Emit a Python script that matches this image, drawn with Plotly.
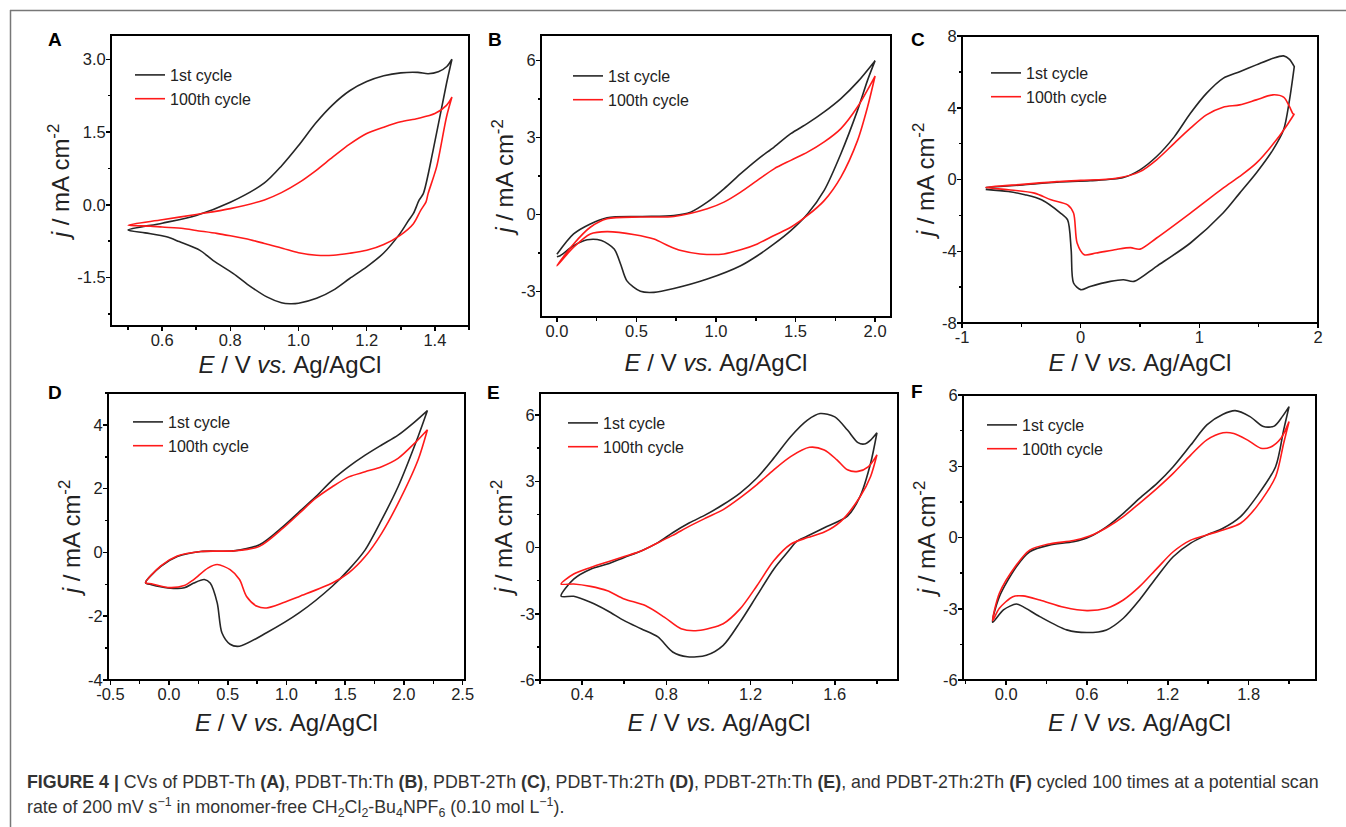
import plotly.graph_objects as go

W, H = 1346, 827
FONT = "Liberation Sans, Arial, sans-serif"
BLACK_C = "#262626"
RED_C = "#ff1a1a"

# ---------------- DATA ----------------
# Panel A  (PDBT-Th)
a_black_up_x = [0.5, 0.6, 0.7, 0.8, 0.9, 0.95, 1.0, 1.05, 1.1, 1.15, 1.2, 1.25, 1.3, 1.35, 1.38, 1.41, 1.435, 1.45]
a_black_up_y = [-0.52, -0.38, -0.22, 0.05, 0.45, 0.8, 1.22, 1.68, 2.06, 2.35, 2.54, 2.66, 2.72, 2.73, 2.70, 2.74, 2.85, 3.0]
a_black_dn_x = [1.45, 1.434, 1.395, 1.366, 1.354, 1.337, 1.323, 1.298, 1.249, 1.2, 1.15, 1.102, 1.053, 1.0, 0.975, 0.95, 0.907, 0.85, 0.809, 0.75, 0.711, 0.65, 0.613, 0.55, 0.5]
a_black_dn_y = [3.0, 2.5, 1.13, 0.23, 0.1, -0.18, -0.32, -0.59, -1.0, -1.28, -1.52, -1.76, -1.93, -2.03, -2.04, -2.02, -1.9, -1.64, -1.42, -1.15, -0.94, -0.76, -0.66, -0.58, -0.52]
a_red_up_x = [0.5, 0.6, 0.7, 0.8, 0.9, 0.95, 1.0, 1.05, 1.1, 1.15, 1.2, 1.25, 1.3, 1.35, 1.4, 1.434, 1.45]
a_red_up_y = [-0.42, -0.31, -0.2, -0.08, 0.1, 0.25, 0.45, 0.7, 0.98, 1.25, 1.47, 1.6, 1.71, 1.78, 1.88, 2.05, 2.22]
a_red_dn_x = [1.45, 1.434, 1.405, 1.38, 1.374, 1.358, 1.337, 1.298, 1.25, 1.2, 1.15, 1.102, 1.053, 1.0, 0.955, 0.9, 0.858, 0.8, 0.76, 0.7, 0.662, 0.6, 0.565, 0.5]
a_red_dn_y = [2.22, 1.81, 0.78, 0.23, 0.06, -0.12, -0.39, -0.63, -0.82, -0.94, -1.0, -1.04, -1.04, -0.99, -0.9, -0.8, -0.72, -0.64, -0.59, -0.53, -0.49, -0.46, -0.44, -0.42]

# Panel B  (PDBT-Th:Th)
b_black_up_x = [0.0, 0.105, 0.21, 0.315, 0.525, 0.735, 0.84, 0.945, 1.05, 1.155, 1.26, 1.365, 1.47, 1.575, 1.68, 1.785, 1.89, 2.0]
b_black_up_y = [-1.55, -0.76, -0.37, -0.13, -0.08, -0.04, 0.09, 0.48, 1.0, 1.59, 2.14, 2.63, 3.15, 3.55, 4.0, 4.52, 5.17, 6.0]
b_black_dn_x = [2.0, 1.953, 1.89, 1.785, 1.68, 1.575, 1.47, 1.365, 1.26, 1.155, 0.945, 0.735, 0.61, 0.525, 0.44, 0.4, 0.36, 0.28, 0.19, 0.105, 0.02, 0.0]
b_black_dn_y = [6.0, 5.24, 4.07, 2.37, 0.94, 0.02, -0.63, -1.15, -1.61, -2.0, -2.52, -2.89, -3.04, -3.0, -2.59, -1.93, -1.35, -1.02, -0.99, -1.22, -1.61, -1.65]
b_red_up_x = [0.0, 0.105, 0.21, 0.315, 0.525, 0.735, 0.945, 1.05, 1.155, 1.26, 1.365, 1.47, 1.575, 1.68, 1.785, 1.89, 2.0]
b_red_up_y = [-2.0, -1.15, -0.5, -0.17, -0.1, -0.08, 0.22, 0.48, 0.87, 1.33, 1.78, 2.11, 2.43, 2.83, 3.35, 4.2, 5.4]
b_red_dn_x = [2.0, 1.953, 1.89, 1.785, 1.68, 1.575, 1.47, 1.365, 1.26, 1.155, 1.05, 0.9, 0.78, 0.7, 0.61, 0.49, 0.315, 0.21, 0.105, 0.0]
b_red_dn_y = [5.4, 4.2, 2.89, 1.46, 0.54, -0.04, -0.5, -0.82, -1.15, -1.38, -1.54, -1.54, -1.41, -1.22, -0.96, -0.79, -0.67, -0.76, -1.28, -2.0]

# Panel C  (PDBT-2Th)
c_black_up_x = [-0.8, -0.49, -0.2, 0.08, 0.36, 0.5, 0.64, 0.79, 0.925, 1.06, 1.2, 1.34, 1.48, 1.62, 1.71, 1.76, 1.8]
c_black_up_y = [-0.45, -0.3, -0.15, -0.07, 0.11, 0.54, 1.28, 2.39, 3.69, 4.8, 5.64, 6.01, 6.39, 6.76, 6.89, 6.7, 6.29]
c_black_dn_x = [1.8, 1.76, 1.71, 1.62, 1.48, 1.34, 1.2, 0.925, 0.64, 0.45, 0.36, 0.25, 0.08, 0.0, -0.06, -0.08, -0.11, -0.17, -0.33, -0.47, -0.61, -0.8]
c_black_dn_y = [6.29, 4.44, 2.77, 1.65, 0.36, -0.76, -1.87, -3.54, -4.84, -5.68, -5.59, -5.68, -5.96, -6.14, -5.77, -3.92, -2.25, -1.87, -1.13, -0.85, -0.67, -0.55]
c_red_up_x = [-0.8, -0.49, -0.2, 0.0, 0.3, 0.5, 0.64, 0.79, 0.925, 1.06, 1.2, 1.34, 1.48, 1.62, 1.71, 1.76, 1.79, 1.8]
c_red_up_y = [-0.45, -0.27, -0.12, -0.05, 0.07, 0.44, 1.1, 2.03, 2.86, 3.6, 4.03, 4.16, 4.44, 4.72, 4.59, 4.06, 3.66, 3.65]
c_red_dn_x = [1.8, 1.75, 1.65, 1.48, 1.34, 1.2, 0.925, 0.64, 0.5, 0.42, 0.3, 0.13, 0.03, -0.03, -0.06, -0.11, -0.25, -0.39, -0.61, -0.8]
c_red_dn_y = [3.65, 3.14, 2.21, 0.91, 0.17, -0.48, -1.87, -3.26, -3.88, -3.8, -3.9, -4.1, -4.19, -3.54, -1.87, -1.41, -1.13, -0.76, -0.57, -0.45]

# Panel D  (PDBT-Th:2Th)
d_black_up_x = [-0.2, -0.07, 0.07, 0.27, 0.55, 0.77, 0.97, 1.11, 1.25, 1.39, 1.53, 1.67, 1.81, 1.95, 2.09, 2.2]
d_black_up_y = [-0.95, -0.44, -0.13, 0.03, 0.05, 0.24, 0.81, 1.28, 1.75, 2.27, 2.69, 3.05, 3.37, 3.68, 4.09, 4.45]
d_black_dn_x = [2.2, 2.12, 1.95, 1.81, 1.67, 1.53, 1.39, 1.11, 0.83, 0.6, 0.52, 0.45, 0.41, 0.35, 0.3, 0.21, 0.13, -0.01, -0.15, -0.2]
d_black_dn_y = [4.45, 3.63, 2.06, 1.02, 0.08, -0.54, -1.06, -1.89, -2.52, -2.94, -2.88, -2.52, -1.58, -0.96, -0.85, -0.96, -1.11, -1.11, -1.01, -0.95]
d_red_up_x = [-0.2, -0.07, 0.07, 0.27, 0.55, 0.77, 0.97, 1.11, 1.25, 1.39, 1.53, 1.67, 1.81, 1.95, 2.09, 2.2]
d_red_up_y = [-0.95, -0.42, -0.11, 0.03, 0.05, 0.19, 0.76, 1.23, 1.7, 2.06, 2.37, 2.53, 2.69, 2.95, 3.42, 3.85]
d_red_dn_x = [2.2, 2.12, 1.95, 1.81, 1.67, 1.53, 1.39, 1.11, 0.97, 0.83, 0.75, 0.66, 0.6, 0.52, 0.41, 0.33, 0.21, 0.13, -0.01, -0.15, -0.2]
d_red_dn_y = [3.85, 2.9, 1.54, 0.6, -0.13, -0.64, -0.96, -1.38, -1.58, -1.74, -1.69, -1.38, -0.85, -0.54, -0.38, -0.49, -0.85, -1.04, -1.1, -0.98, -0.95]

# Panel E  (PDBT-2Th:Th)
e_black_up_x = [0.3, 0.36, 0.44, 0.52, 0.6, 0.68, 0.76, 0.83, 0.91, 0.99, 1.07, 1.15, 1.23, 1.31, 1.39, 1.47, 1.53, 1.6, 1.66, 1.71, 1.74, 1.77, 1.8]
e_black_up_y = [-2.2, -1.43, -0.98, -0.75, -0.45, -0.16, 0.22, 0.67, 1.12, 1.5, 1.95, 2.47, 3.15, 4.05, 5.02, 5.77, 6.07, 5.92, 5.32, 4.75, 4.69, 4.87, 5.2]
e_black_dn_x = [1.8, 1.77, 1.72, 1.66, 1.55, 1.47, 1.42, 1.38, 1.31, 1.23, 1.15, 1.07, 0.99, 0.9, 0.83, 0.76, 0.68, 0.6, 0.52, 0.44, 0.36, 0.3]
e_black_dn_y = [5.2, 3.82, 2.32, 1.42, 0.9, 0.52, 0.29, -0.16, -0.98, -2.18, -3.38, -4.43, -4.88, -4.95, -4.73, -4.05, -3.68, -3.31, -2.86, -2.48, -2.21, -2.2]
e_red_up_x = [0.3, 0.36, 0.44, 0.52, 0.6, 0.68, 0.76, 0.83, 0.91, 0.99, 1.07, 1.15, 1.23, 1.31, 1.39, 1.48, 1.55, 1.61, 1.66, 1.71, 1.76, 1.8]
e_red_up_y = [-1.65, -1.2, -0.9, -0.65, -0.41, -0.16, 0.22, 0.55, 0.97, 1.35, 1.72, 2.25, 2.85, 3.52, 4.12, 4.54, 4.42, 3.97, 3.52, 3.45, 3.67, 4.2]
e_red_dn_x = [1.8, 1.77, 1.72, 1.63, 1.55, 1.47, 1.39, 1.31, 1.23, 1.15, 1.07, 0.95, 0.87, 0.79, 0.7, 0.6, 0.52, 0.44, 0.36, 0.3]
e_red_dn_y = [4.2, 3.22, 2.3, 1.2, 0.7, 0.45, 0.15, -0.6, -1.73, -2.78, -3.45, -3.76, -3.68, -3.15, -2.63, -2.33, -1.96, -1.76, -1.65, -1.65]

# Panel F  (PDBT-2Th:2Th)
f_black_up_x = [-0.1, -0.05, 0.076, 0.175, 0.32, 0.5, 0.62, 0.745, 0.87, 0.99, 1.12, 1.24, 1.37, 1.49, 1.61, 1.7, 1.81, 1.91, 1.99, 2.05, 2.1]
f_black_up_y = [-3.57, -2.49, -1.23, -0.6, -0.32, -0.18, 0.03, 0.45, 1.02, 1.65, 2.28, 2.98, 3.89, 4.74, 5.19, 5.34, 5.09, 4.67, 4.69, 5.09, 5.51]
f_black_dn_x = [2.1, 2.06, 2.0, 1.86, 1.74, 1.61, 1.49, 1.37, 1.24, 1.12, 0.99, 0.87, 0.745, 0.6, 0.45, 0.25, 0.125, 0.076, -0.02, -0.1]
f_black_dn_y = [5.51, 4.53, 2.98, 1.72, 0.88, 0.39, 0.11, -0.24, -0.81, -1.65, -2.63, -3.4, -3.89, -4.0, -3.89, -3.33, -2.91, -2.8, -3.05, -3.57]
f_red_up_x = [-0.1, -0.05, 0.076, 0.175, 0.32, 0.5, 0.62, 0.745, 0.87, 0.99, 1.12, 1.24, 1.37, 1.49, 1.61, 1.69, 1.79, 1.89, 1.96, 2.04, 2.1]
f_red_up_y = [-3.5, -2.35, -1.16, -0.53, -0.27, -0.13, 0.06, 0.41, 0.88, 1.44, 2.07, 2.7, 3.47, 4.11, 4.41, 4.38, 4.11, 3.76, 3.8, 4.18, 4.88]
f_red_dn_x = [2.1, 2.06, 2.0, 1.86, 1.74, 1.61, 1.49, 1.37, 1.24, 1.12, 0.99, 0.87, 0.745, 0.6, 0.43, 0.25, 0.125, 0.05, -0.05, -0.1]
f_red_dn_y = [4.88, 3.97, 2.56, 1.3, 0.6, 0.32, 0.11, -0.11, -0.6, -1.3, -2.07, -2.63, -2.98, -3.08, -2.94, -2.63, -2.46, -2.49, -2.98, -3.5]

series_names = ["1st cycle", "100th cycle"]
panel_letters = ["A", "B", "C", "D", "E", "F"]

# tick labels
a_xticks = [0.6, 0.8, 1.0, 1.2, 1.4]; a_xtext = ["0.6", "0.8", "1.0", "1.2", "1.4"]
a_yticks = [-1.5, 0.0, 1.5, 3.0]; a_ytext = ["-1.5", "0.0", "1.5", "3.0"]
b_xticks = [0.0, 0.5, 1.0, 1.5, 2.0]; b_xtext = ["0.0", "0.5", "1.0", "1.5", "2.0"]
b_yticks = [-3, 0, 3, 6]; b_ytext = ["-3", "0", "3", "6"]
c_xticks = [-1, 0, 1, 2]; c_xtext = ["-1", "0", "1", "2"]
c_yticks = [-8, -4, 0, 4, 8]; c_ytext = ["-8", "-4", "0", "4", "8"]
d_xticks = [-0.5, 0.0, 0.5, 1.0, 1.5, 2.0, 2.5]; d_xtext = ["-0.5", "0.0", "0.5", "1.0", "1.5", "2.0", "2.5"]
d_yticks = [-4, -2, 0, 2, 4]; d_ytext = ["-4", "-2", "0", "2", "4"]
e_xticks = [0.4, 0.8, 1.2, 1.6]; e_xtext = ["0.4", "0.8", "1.2", "1.6"]
e_yticks = [-6, -3, 0, 3, 6]; e_ytext = ["-6", "-3", "0", "3", "6"]
f_xticks = [0.0, 0.6, 1.2, 1.8]; f_xtext = ["0.0", "0.6", "1.2", "1.8"]
f_yticks = [-6, -3, 0, 3, 6]; f_ytext = ["-6", "-3", "0", "3", "6"]

caption_line1 = ("<b>FIGURE 4 |</b> CVs of PDBT-Th <b>(A)</b>, PDBT-Th:Th <b>(B)</b>, PDBT-2Th <b>(C)</b>, "
                 "PDBT-Th:2Th <b>(D)</b>, PDBT-2Th:Th <b>(E)</b>, and PDBT-2Th:2Th <b>(F)</b> cycled 100 times at a potential scan")
caption_line2 = ("rate of 200 mV s<sup>\u22121</sup> in monomer-free CH<sub>2</sub>Cl<sub>2</sub>-Bu<sub>4</sub>NPF<sub>6</sub> "
                 "(0.10 mol L<sup>\u22121</sup>).")

# ---------------- LAYOUT GEOMETRY (pixels) ----------------
boxes = [
    (111, 35, 469, 326),
    (541, 35, 891, 317),
    (962, 36, 1318, 323),
    (108, 393, 465, 680),
    (540, 393, 898, 680),
    (963, 395, 1316, 680),
]
xranges = [[0.45, 1.5], [-0.1, 2.1], [-1, 2], [-0.52, 2.52], [0.2, 1.9], [-0.32, 2.3]]
yranges = [[-2.5, 3.5], [-4, 7], [-8, 8], [-4, 5], [-6, 7], [-6, 6]]
xminor = [(0.1, 0.5), (0.25, 0.0), (0.5, 0.0), (0.25, 0.0), (0.2, 0.0), (0.3, 0.0)]
yminor = [(0.75, 0.0), (1.5, 0.0), (2, 0), (1, 0), (1.5, 0.0), (1.5, 0.0)]
xtitle_standoff = [8, 15, 9, 12, 12, 12]
xticks = [(a_xticks, a_xtext), (b_xticks, b_xtext), (c_xticks, c_xtext), (d_xticks, d_xtext), (e_xticks, e_xtext), (f_xticks, f_xtext)]
yticks = [(a_yticks, a_ytext), (b_yticks, b_ytext), (c_yticks, c_ytext), (d_yticks, d_ytext), (e_yticks, e_ytext), (f_yticks, f_ytext)]
legend_pos = [(134, 75), (572, 76), (990, 73), (132, 422), (567, 423), (986, 425)]
letter_pos = [(55, 40), (495, 40), (918, 40), (55, 392), (494, 392), (917, 391)]

data = [
    (a_black_up_x + a_black_dn_x, a_black_up_y + a_black_dn_y, a_red_up_x + a_red_dn_x, a_red_up_y + a_red_dn_y),
    (b_black_up_x + b_black_dn_x, b_black_up_y + b_black_dn_y, b_red_up_x + b_red_dn_x, b_red_up_y + b_red_dn_y),
    (c_black_up_x + c_black_dn_x, c_black_up_y + c_black_dn_y, c_red_up_x + c_red_dn_x, c_red_up_y + c_red_dn_y),
    (d_black_up_x + d_black_dn_x, d_black_up_y + d_black_dn_y, d_red_up_x + d_red_dn_x, d_red_up_y + d_red_dn_y),
    (e_black_up_x + e_black_dn_x, e_black_up_y + e_black_dn_y, e_red_up_x + e_red_dn_x, e_red_up_y + e_red_dn_y),
    (f_black_up_x + f_black_dn_x, f_black_up_y + f_black_dn_y, f_red_up_x + f_red_dn_x, f_red_up_y + f_red_dn_y),
]

def px_x(p):
    return p / W

def px_y(p):
    return 1 - p / H

fig = go.Figure()
layout = dict(
    width=W, height=H, margin=dict(l=0, r=0, t=0, b=0, pad=0, autoexpand=False),
    paper_bgcolor="white", plot_bgcolor="white",
    font=dict(family=FONT, color="#222"),
    showlegend=True, hovermode=False,
)

annotations = []
shapes = []
for i in range(6):
    n = "" if i == 0 else str(i + 1)
    xa, ya = "x" + n, "y" + n
    lg = "legend" + n
    bx, by, rx, ry = data[i]
    fig.add_trace(go.Scatter(x=bx, y=by, mode="lines", name=series_names[0],
                             line=dict(color=BLACK_C, width=1.6, shape="spline", smoothing=0.8),
                             xaxis=xa, yaxis=ya, legend=lg))
    fig.add_trace(go.Scatter(x=rx, y=ry, mode="lines", name=series_names[1],
                             line=dict(color=RED_C, width=1.6, shape="spline", smoothing=0.8),
                             xaxis=xa, yaxis=ya, legend=lg))
    l, t, r, b = boxes[i]
    common = dict(showline=False,
                  ticks="outside", ticklen=4, tickwidth=1.5, tickcolor="black",
                  showgrid=False, zeroline=False, tickmode="array",
                  tickfont=dict(size=16.5, color="#222", family=FONT))
    layout["xaxis" + n] = dict(
        common, automargin=True, domain=[px_x(l), px_x(r)], range=xranges[i], anchor=ya,
        tickvals=xticks[i][0], ticktext=xticks[i][1], ticklabelstandoff=-5,
        minor=dict(ticks="outside", ticklen=2.5, tickwidth=1.5, tickcolor="black",
                   tickmode="linear", dtick=xminor[i][0], tick0=xminor[i][1], showgrid=False),
        title=dict(text="<i>E</i> / V <i>vs.</i> Ag/AgCl", font=dict(size=24, color="#222", family=FONT),
                   standoff=xtitle_standoff[i]),
    )
    layout["yaxis" + n] = dict(
        common, automargin=False, domain=[px_y(b), px_y(t)], range=yranges[i], anchor=xa,
        tickvals=yticks[i][0], ticktext=yticks[i][1], ticklabelstandoff=-3,
        minor=dict(ticks="outside", ticklen=2.5, tickwidth=1.5, tickcolor="black",
                   tickmode="linear", dtick=yminor[i][0], tick0=yminor[i][1], showgrid=False),
        title=dict(text="<i>j</i> / mA cm<sup>-2</sup>", font=dict(size=24, color="#222", family=FONT), standoff=0),
    )
    # plot frame
    shapes.append(dict(type="rect", xref=xa + " domain", yref=ya + " domain", x0=0, x1=1, y0=0, y1=1,
                       line=dict(color="black", width=2), layer="above"))
    lx, ly = legend_pos[i]
    layout[lg] = dict(x=px_x(lx - 4), y=px_y(ly - 17), xanchor="left", yanchor="top",
                      bgcolor="rgba(0,0,0,0)", borderwidth=0,
                      font=dict(size=16, color="#222", family=FONT), tracegroupgap=0)
    px, py = letter_pos[i]
    annotations.append(dict(text="<b>%s</b>" % panel_letters[i], x=px_x(px), y=px_y(py),
                            xref="paper", yref="paper", showarrow=False,
                            font=dict(size=19, color="black", family=FONT),
                            xanchor="center", yanchor="middle"))

annotations.append(dict(text=caption_line1, x=px_x(25), y=px_y(782), xref="paper", yref="paper",
                        showarrow=False, xanchor="left", yanchor="middle", align="left",
                        font=dict(size=17.8, color="#333", family=FONT)))
annotations.append(dict(text=caption_line2, x=px_x(25), y=px_y(807), xref="paper", yref="paper",
                        showarrow=False, xanchor="left", yanchor="middle", align="left",
                        font=dict(size=17.8, color="#333", family=FONT)))
layout["annotations"] = annotations
shapes += [
    dict(type="line", xref="paper", yref="paper", x0=px_x(10), x1=1, y0=px_y(10.5), y1=px_y(10.5),
         line=dict(color="#777", width=1.5)),
    dict(type="line", xref="paper", yref="paper", x0=px_x(10.5), x1=px_x(10.5), y0=px_y(10), y1=0,
         line=dict(color="#777", width=1.5)),
]
layout["shapes"] = shapes
fig.update_layout(**layout)
fig.write_html("out.html", config={"displayModeBar": False, "staticPlot": True},
               post_script="document.body.style.margin='0px';")
